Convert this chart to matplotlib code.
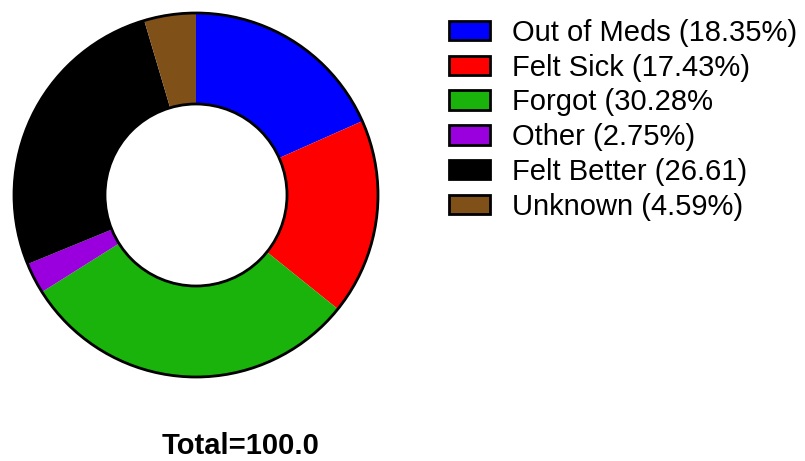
import matplotlib.pyplot as plt
from matplotlib.patches import Patch, Circle

labels = ['Out of Meds (18.35%)', 'Felt Sick (17.43%)', 'Forgot (30.28%',
          'Other (2.75%)', 'Felt Better (26.61)', 'Unknown (4.59%)']
values = [18.35, 17.43, 30.28, 2.75, 26.61, 4.59]
colors = ['#0000ff', '#ff0000', '#19b30b', '#9900dd', '#000000', '#805019']
total_label = 'Total=100.0'

plt.rcParams['font.family'] = ['Liberation Sans', 'DejaVu Sans']

W, H = 805, 461
fig = plt.figure(figsize=(W/100, H/100), dpi=100)

# donut centre / radius in pixels
cx, cy, r = 196, 195, 182
pad = 1.03
ax = fig.add_axes([(cx - r*pad)/W, (H - cy - r*pad)/H, 2*r*pad/W, 2*r*pad/H])
ax.pie(values, colors=colors, startangle=90, counterclock=False, radius=1,
       wedgeprops=dict(width=0.5, linewidth=0))
ax.add_patch(Circle((0, 0), 1, fill=False, edgecolor='black', lw=2))
ax.add_patch(Circle((0, 0), 0.5, fill=False, edgecolor='black', lw=2))
ax.set_xlim(-pad, pad)
ax.set_ylim(-pad, pad)
ax.set_aspect('equal')
ax.axis('off')

handles = [Patch(facecolor=c, edgecolor='black', linewidth=2) for c in colors]
fig.legend(handles, labels, loc='upper left', bbox_to_anchor=(449/W, 1 - 19/H),
           frameon=False, fontsize=21, handlelength=1.40, handleheight=0.65,
           handletextpad=0.75, labelspacing=0.23, borderpad=0, borderaxespad=0)

fig.text(241/W, 1 - 446/H, total_label, ha='center', va='center',
         fontsize=21, fontweight='bold')

fig.savefig('out.png', dpi=100)
